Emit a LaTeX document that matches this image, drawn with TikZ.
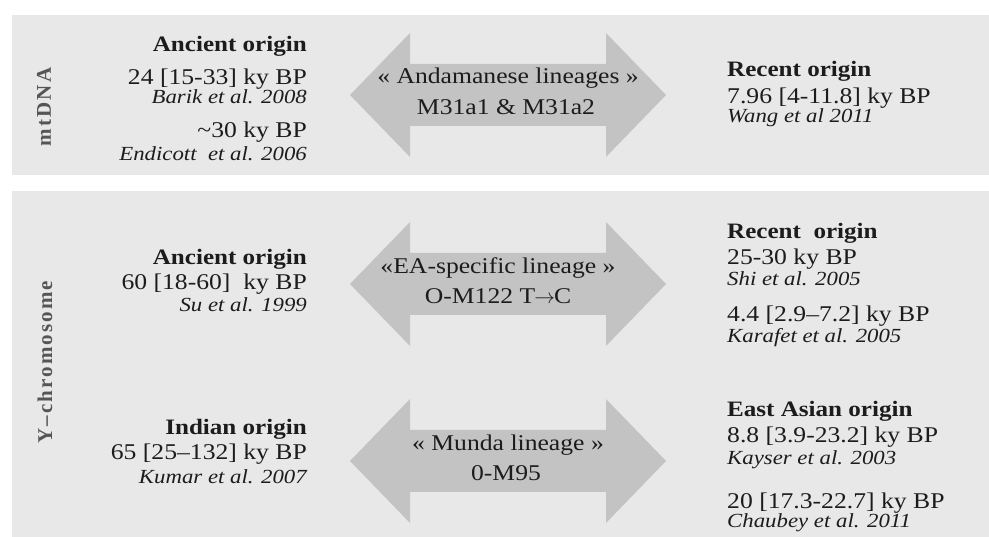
\documentclass[tikz,border=0pt]{standalone}
\usepackage{fontspec}
\setmainfont{Liberation Serif}[FakeStretch=1.14]
\newfontfamily\sidefont{Liberation Serif}[LetterSpace=10]
\definecolor{panelgrey}{HTML}{E8E8E8}
\definecolor{arrowgrey}{HTML}{C3C3C3}
\definecolor{txtdark}{HTML}{1C1C1C}
\definecolor{labgrey}{HTML}{555555}
\newcommand\dblarrow[1]{%
  \fill[arrowgrey] (350,#1) -- (410,#1-62) -- (410,#1-31) -- (606,#1-31)
    -- (606,#1-62) -- (666,#1) -- (606,#1+62) -- (606,#1+31) -- (410,#1+31)
    -- (410,#1+62) -- cycle;}
\begin{document}
\begin{tikzpicture}[x=1pt,y=-1pt,
  every node/.style={inner sep=0pt,text=txtdark},
  panel/.style={fill=panelgrey},
  headL/.style={anchor=base east,font=\fontsize{22}{26}\selectfont\bfseries},
  mainL/.style={anchor=base east,font=\fontsize{22.5}{26}\selectfont},
  citeL/.style={anchor=base east,font=\fontsize{20}{24}\selectfont\itshape},
  headR/.style={anchor=base west,font=\fontsize{22}{26}\selectfont\bfseries},
  mainR/.style={anchor=base west,font=\fontsize{22.5}{26}\selectfont},
  citeR/.style={anchor=base west,font=\fontsize{20}{24}\selectfont\itshape},
  arrtxt/.style={anchor=base,font=\fontsize{22.5}{26}\selectfont},
  sidelab/.style={rotate=90,text=labgrey,font=\sidefont\fontsize{21}{25}\selectfont\bfseries}]
\useasboundingbox[fill=white] (0,0) rectangle (989,537);
\fill[panel] (12,15) rectangle (989,175);
\fill[panel] (12,191) rectangle (989,537);
% arrows
\dblarrow{95}
\dblarrow{284}
\dblarrow{461}
% side labels
\node[sidelab] (mt) at (44,107) {mtDNA};
\node[sidelab] (yc) at (45,362) {Y–chromosome};
% mtDNA panel
\node[headL] (a1) at (307,52) {Ancient origin};
\node[mainL] (a2) at (307,84.5) {24 [15-33] ky BP};
\node[citeL] (a3) at (307,103.5) {Barik et al. 2008};
\node[mainL] (a4) at (307,138) {\textasciitilde30 ky BP};
\node[citeL] (a5) at (307,161) {Endicott\ \ et al. 2006};
\node[arrtxt] (m1) at (508,84) {« Andamanese lineages »};
\node[arrtxt] (m2) at (506,115) {M31a1 \& M31a2};
\node[headR] (r1) at (727,77) {Recent origin};
\node[mainR] (r2) at (727,104) {7.96 [4-11.8] ky BP};
\node[citeR] (r3) at (727,123) {Wang et al 2011};
% Y-chromosome, upper row
\node[headL] (b1) at (307,265) {Ancient origin};
\node[mainL] (b2) at (307,290) {60 [18-60]\ \ ky BP};
\node[citeL] (b3) at (307,312) {Su et al. 1999};
\node[arrtxt] (n1) at (498,274) {«EA-specific lineage »};
\node[arrtxt] (n2) at (498,304) {O-M122 T\kern-1pt$\rightarrow$\kern-1pt C};
\node[headR] (s1) at (727,239) {Recent\ \ origin};
\node[mainR] (s2) at (727,265) {25-30 ky BP};
\node[citeR] (s3) at (727,286) {Shi et al. 2005};
\node[mainR] (s4) at (727,322) {4.4 [2.9–7.2] ky BP};
\node[citeR] (s5) at (727,343) {Karafet et al. 2005};
% Y-chromosome, lower row
\node[headL] (c1) at (307,435) {Indian origin};
\node[mainL] (c2) at (307,460) {65 [25–132] ky BP};
\node[citeL] (c3) at (307,483) {Kumar et al. 2007};
\node[arrtxt] (o1) at (508,451) {« Munda lineage »};
\node[arrtxt] (o2) at (506,481) {0-M95};
\node[headR] (t1) at (727,417) {East Asian origin};
\node[mainR] (t2) at (727,443) {8.8 [3.9-23.2] ky BP};
\node[citeR] (t3) at (727,465) {Kayser et al. 2003};
\node[mainR] (t4) at (727,508) {20 [17.3-22.7] ky BP};
\node[citeR] (t5) at (727,528) {Chaubey et al. 2011};
\end{tikzpicture}
\end{document}
